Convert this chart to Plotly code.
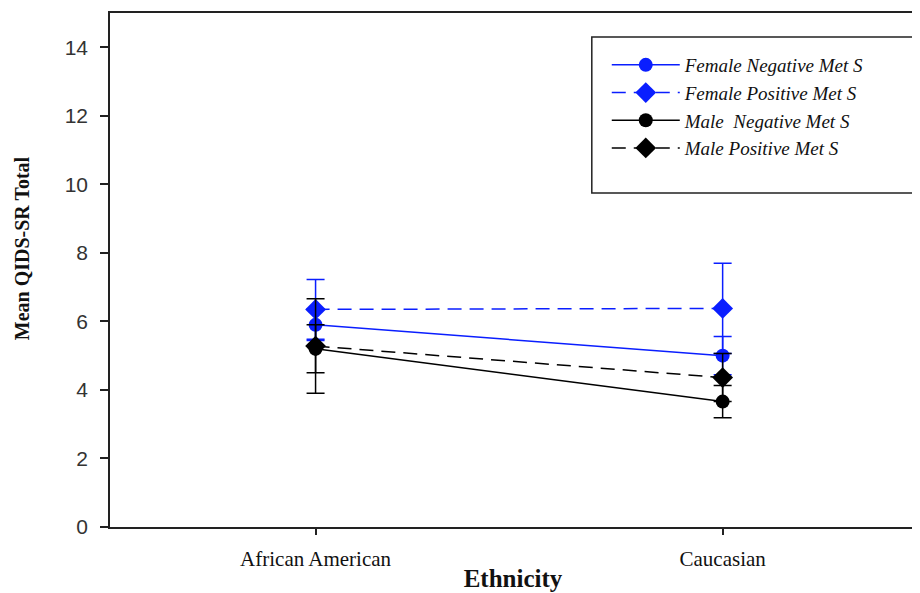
import plotly.graph_objects as go

categories = ["African American", "Caucasian"]
series_names = ["Female Negative Met S", "Female Positive Met S",
                "Male  Negative Met S", "Male Positive Met S"]
female_neg = [5.9, 5.0]
female_neg_err = [0.46, 0.56]
female_pos = [6.35, 6.38]
female_pos_err = [0.87, 1.32]
male_neg = [5.2, 3.66]
male_neg_err = [0.7, 0.47]
male_pos = [5.28, 4.36]
male_pos_err = [1.38, 0.7]
y_ticks = [0, 2, 4, 6, 8, 10, 12, 14]

BLUE = "#0a1eff"
BLACK = "#000000"

specs = [
    (series_names[0], female_neg, female_neg_err, BLUE, "solid", "circle", 14),
    (series_names[1], female_pos, female_pos_err, BLUE, "14px,8px", "diamond", 16),
    (series_names[2], male_neg, male_neg_err, BLACK, "solid", "circle", 14),
    (series_names[3], male_pos, male_pos_err, BLACK, "14px,8px", "diamond", 16),
]

fig = go.Figure()
for name, vals, errs, col, dash, sym, sz in specs:
    fig.add_trace(go.Scatter(
        x=categories, y=vals, name=name, mode="lines+markers",
        line=dict(color=col, width=1.5, dash=dash),
        marker=dict(color=col, symbol=sym, size=sz),
        error_y=dict(type="data", array=errs, visible=True, color=col,
                     thickness=1.5, width=9),
    ))

# plot area in page pixels: x 110..918, y 13..527 (page has 8px body margin)
PW, PH = 808, 514
fig.add_shape(type="rect", xref="paper", yref="paper",
              x0=(593 - 110) / PW, x1=(917 - 110) / PW,
              y0=(527 - 193) / PH, y1=(527 - 37) / PH,
              line=dict(color="#222", width=1.5), fillcolor="rgba(0,0,0,0)")

fig.add_annotation(text="<b>Mean QIDS-SR Total</b>", textangle=-90,
                   xref="paper", yref="paper",
                   x=(22 - 110) / PW, y=(527 - 248) / PH,
                   xanchor="center", yanchor="middle", showarrow=False,
                   font=dict(family="Liberation Serif", size=20, color="#111"))

fig.update_layout(
    width=912, height=585,
    margin=dict(l=102, r=2, t=5, b=66),
    paper_bgcolor="white", plot_bgcolor="white",
    showlegend=True,
    legend=dict(
        x=(608 - 110) / PW, y=(527 - 46) / PH, xanchor="left", yanchor="top",
        bgcolor="rgba(0,0,0,0)", borderwidth=0,
        font=dict(family="Liberation Serif", size=19, color="#111", style="italic"),
        itemwidth=68, tracegroupgap=0,
    ),
    xaxis=dict(
        type="category", range=[-0.505, 1.475],
        showline=True, mirror=True, linecolor="#222", linewidth=1.5,
        ticks="outside", ticklen=6, tickcolor="#222", tickwidth=1.5,
        showgrid=False, zeroline=False, ticklabelstandoff=6,
        tickfont=dict(family="Liberation Serif", size=21, color="#111"),
        title=dict(text="<b>Ethnicity</b>", standoff=0,
                   font=dict(family="Liberation Serif", size=25, color="#111")),
    ),
    yaxis=dict(
        range=[0, 15], tickvals=y_ticks,
        showline=True, mirror=True, linecolor="#222", linewidth=1.5,
        ticks="outside", ticklen=8, tickcolor="#222", tickwidth=1.5,
        showgrid=False, zeroline=False, ticklabelstandoff=8,
        tickfont=dict(family="Liberation Sans", size=21, color="#333"),
    ),
)

fig.write_html("out.html")
